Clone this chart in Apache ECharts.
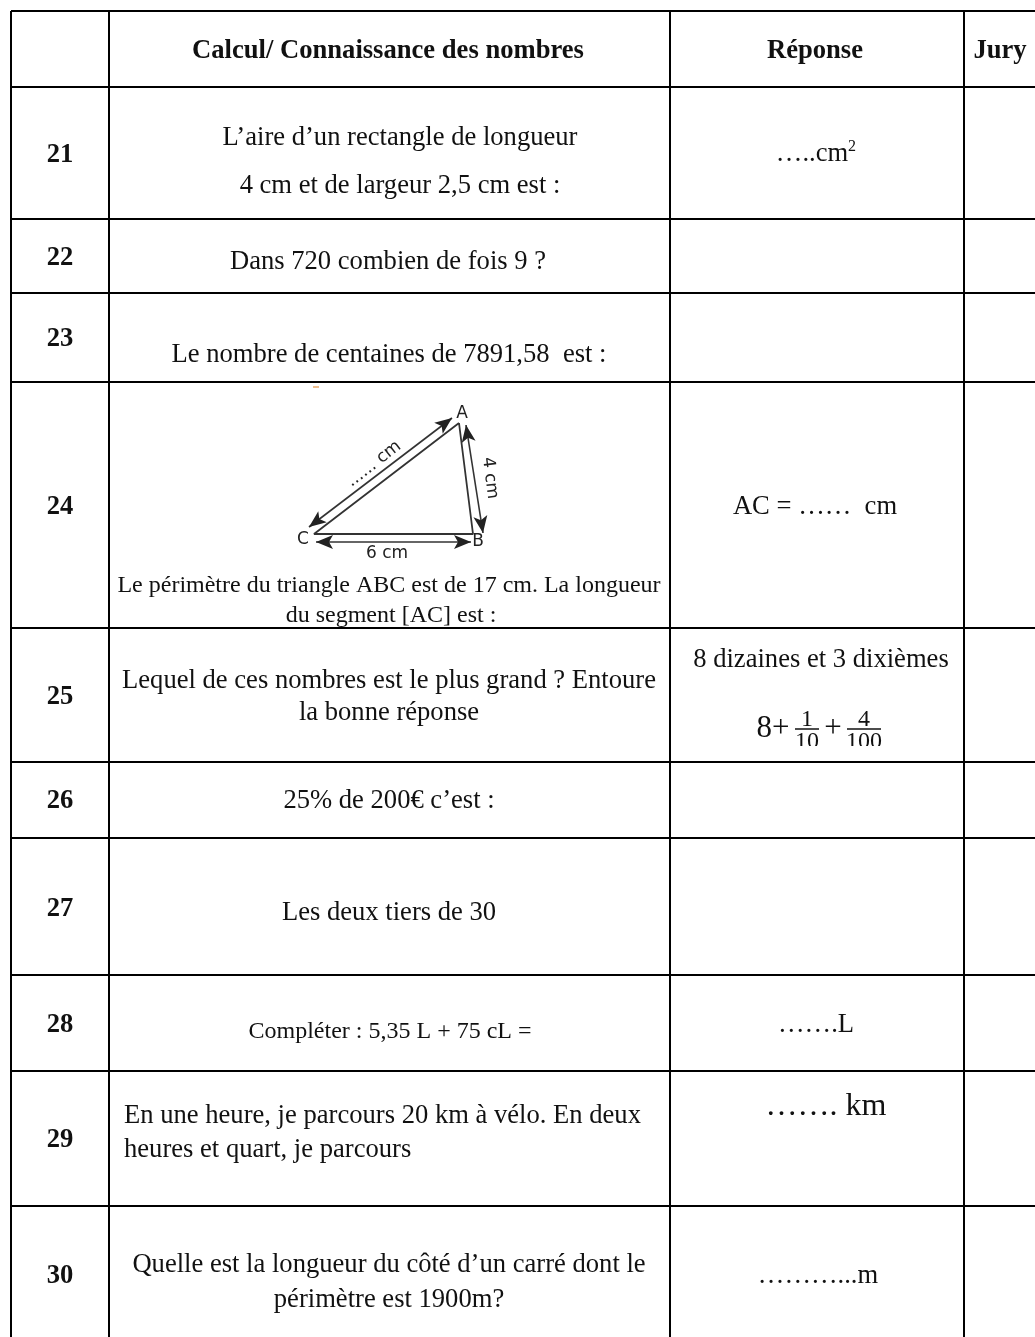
<!DOCTYPE html>
<html>
<head>
<meta charset="utf-8">
<title>Calcul / Connaissance des nombres</title>
<style>
  html, body { margin: 0; padding: 0; background: #fff; }
  #main { width: 1035px; height: 1337px; }
</style>
<script src="https://cdn.jsdelivr.net/npm/echarts@6/dist/echarts.min.js"></script>
</head>
<body>
<div id="main"></div>
<script>
// table content
const headers = ["Calcul/ Connaissance des nombres", "Réponse", "Jury"];
const rowNumbers = ["21", "22", "23", "24", "25", "26", "27", "28", "29", "30"];
const questions = [
  "L’aire d’un rectangle de longueur",
  "4 cm et de largeur 2,5 cm est :",
  "Dans 720 combien de fois 9 ?",
  "Le nombre de centaines de 7891,58  est :",
  "Le périmètre du triangle ABC est de 17 cm. La longueur",
  "du segment [AC] est :",
  "Lequel de ces nombres est le plus grand ? Entoure",
  "la bonne réponse",
  "25% de 200€ c’est :",
  "Les deux tiers de 30",
  "Compléter : 5,35 L + 75 cL =",
  "En une heure, je parcours 20 km à vélo. En deux",
  "heures et quart, je parcours",
  "Quelle est la longueur du côté d’un carré dont le",
  "périmètre est 1900m?",
];
const answers = [
  "…..cm",
  "AC = ……  cm",
  "8 dizaines et 3 dixièmes",
  "…….L",
  "……. km",
  "………...m",
];

// table grid, in page pixels
const colEdges = [11, 109, 670, 964];
const rowEdges = [11, 87, 219, 293, 382, 628, 762, 838, 975, 1071, 1206];
const tableRight = 1035;
const tableBottom = 1337;

// where each text sits: [x, y, font size]
const headerPos = [[388, 51, 26.6], [815, 51, 26.6], [1000, 51, 26.6]];
const rowNumberY = [155, 258, 339, 507, 697, 801, 909, 1025, 1140, 1276];
const questionPos = [
  [400, 138, 26.6], [400, 186, 26.6], [388, 262, 26.6], [389, 355, 26.6],
  [389, 586, 24], [391, 616, 24], [389, 681, 26.6], [389, 713, 26.6],
  [389, 801, 26.6], [389, 913, 26.6], [390, 1032, 24],
  [124, 1116, 26.6, "left"], [124, 1150, 26.6, "left"],
  [389, 1265, 26.6], [389, 1300, 26.6],
];
const answerPos = [
  [812, 154, 26.6], [815, 507, 26.6], [821, 660, 26.6],
  [816, 1025, 26.6], [826, 1107, 32], [818, 1276, 26.6],
];

// triangle figure
const triangle = [[459, 423], [314, 534], [473, 534], [459, 423]];
const arrows = [[309, 527, 452, 418], [466, 425, 483, 533], [316, 542, 471, 542]];
const figureLabels = [
  ["A", 462, 414, 17, 0], ["B", 478, 542, 17, 0], ["C", 303, 540, 17, 0],
  ["6 cm", 387, 554, 17, 0], ["4 cm", 490, 478, 17, -83], ["...... cm", 374, 464, 17, 38],
];
// stray marks left at the top of the cell
const strayMarks = [[313, 387, 319, 387]];

// answer of row 25, cut off by the cell in the original
const fractionTexts = [
  ["8+", 773, 729, 31], ["1", 807, 720, 24], ["10", 807, 742, 24],
  ["+", 833, 729, 31], ["4", 864, 720, 24], ["100", 864, 742, 24],
];
const fractionBars = [[795, 729, 819, 729], [847, 729, 881, 729]];
const fractionMask = [[690, 746, 940, 760]];

const serif = '"Liberation Serif", "Times New Roman", serif';
const textItems = [];
const addText = (text, pos, bold) => {
  textItems.push({
    value: [pos[0], pos[1]], text, size: pos[2], bold,
    align: pos[3] || "center", font: serif, rotate: 0, color: "#111",
  });
};
headers.forEach((t, i) => addText(t, headerPos[i], true));
rowNumbers.forEach((t, i) => addText(t, [60, rowNumberY[i], 26.6], true));
questions.forEach((t, i) => addText(t, questionPos[i], false));
answers.forEach((t, i) => addText(t, answerPos[i], false));
addText("2", [852, 147, 16], false);
fractionTexts.forEach((f) => addText(f[0], [f[1], f[2], f[3]], false));
figureLabels.forEach((f) => {
  textItems.push({
    value: [f[1], f[2]], text: f[0], size: f[3], bold: false, align: "center",
    font: '"DejaVu Sans", sans-serif', rotate: f[4], color: "#222",
  });
});

// grid segments built from the edges
const gridSegments = [];
rowEdges.forEach((y) => gridSegments.push([colEdges[0], y, tableRight, y]));
colEdges.forEach((x) => gridSegments.push([x, rowEdges[0], x, tableBottom]));

const renderSegment = (color, width) => (params, api) => {
  const a = api.coord([api.value(0), api.value(1)]);
  const b = api.coord([api.value(2), api.value(3)]);
  return {
    type: "line",
    shape: { x1: a[0], y1: a[1], x2: b[0], y2: b[1] },
    style: { stroke: color, lineWidth: width },
  };
};

// double headed arrow of the figure
function renderArrow(params, api) {
  const a = api.coord([api.value(0), api.value(1)]);
  const b = api.coord([api.value(2), api.value(3)]);
  const len = Math.hypot(b[0] - a[0], b[1] - a[1]);
  const ux = (b[0] - a[0]) / len;
  const uy = (b[1] - a[1]) / len;
  const head = (tip, dir) => {
    const bx = tip[0] - dir * ux * 17;
    const by = tip[1] - dir * uy * 17;
    return {
      type: "polygon",
      shape: {
        points: [
          tip,
          [bx - uy * 7, by + ux * 7],
          [tip[0] - dir * ux * 13, tip[1] - dir * uy * 13],
          [bx + uy * 7, by - ux * 7],
        ],
      },
      style: { fill: "#222" },
    };
  };
  return {
    type: "group",
    children: [
      {
        type: "line",
        shape: { x1: a[0], y1: a[1], x2: b[0], y2: b[1] },
        style: { stroke: "#333", lineWidth: 1.6 },
      },
      head(b, 1),
      head(a, -1),
    ],
  };
}

function renderText(params, api) {
  const item = textItems[params.dataIndex];
  const p = api.coord([api.value(0), api.value(1)]);
  return {
    type: "text",
    x: p[0],
    y: p[1],
    rotation: (item.rotate * Math.PI) / 180,
    style: {
      text: item.text,
      font: (item.bold ? "bold " : "") + item.size + "px " + item.font,
      fill: item.color,
      align: item.align,
      verticalAlign: "middle",
    },
  };
}

function renderMask(params, api) {
  const a = api.coord([api.value(0), api.value(1)]);
  const b = api.coord([api.value(2), api.value(3)]);
  return {
    type: "rect",
    shape: { x: a[0], y: a[1], width: b[0] - a[0], height: b[1] - a[1] },
    style: { fill: "#fff" },
  };
}

const chart = echarts.init(document.getElementById("main"), null, { renderer: "canvas" });
chart.setOption({
  animation: false,
  backgroundColor: "#fff",
  grid: { left: 0, right: 0, top: 0, bottom: 0 },
  xAxis: { type: "value", min: 0, max: 1035, show: false },
  yAxis: { type: "value", min: 0, max: 1337, inverse: true, show: false },
  series: [
    { type: "custom", silent: true, clip: false, data: textItems, renderItem: renderText },
    { type: "custom", silent: true, clip: false, data: fractionBars, renderItem: renderSegment("#111", 1.5) },
    { type: "custom", silent: true, clip: false, data: fractionMask, renderItem: renderMask },
    {
      type: "line", silent: true, data: triangle, symbol: "none",
      lineStyle: { color: "#333", width: 1.8 },
    },
    { type: "custom", silent: true, clip: false, data: arrows, renderItem: renderArrow },
    { type: "custom", silent: true, clip: false, data: strayMarks, renderItem: renderSegment("#e8a868", 1.5) },
    { type: "custom", silent: true, clip: false, data: gridSegments, renderItem: renderSegment("#000", 2) },
  ],
});
</script>
</body>
</html>
